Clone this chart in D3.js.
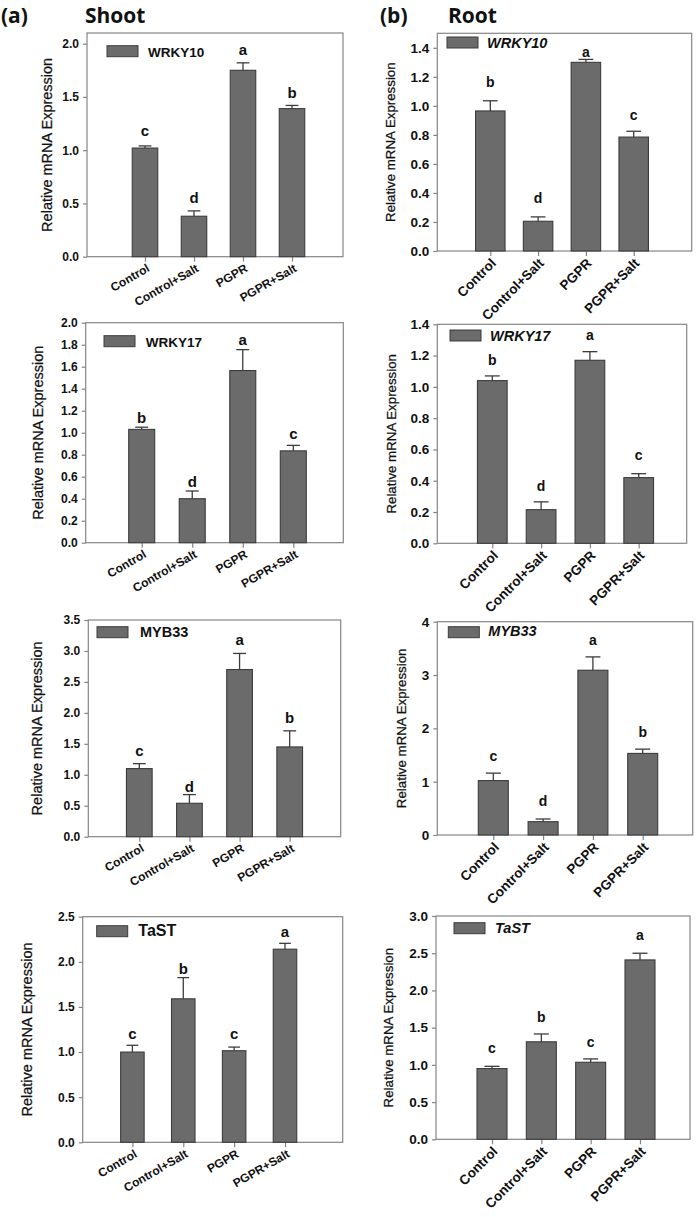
<!DOCTYPE html>
<html>
<head>
<meta charset="utf-8">
<script src="https://cdn.jsdelivr.net/npm/d3@7"></script>
<style>
  html, body { margin: 0; padding: 0; background: #fff; }
  svg { display: block; }
</style>
</head>
<body>
<svg id="chart" width="697" height="1217"></svg>
<script>
// ---------------- DATA ----------------
const categories = ["Control", "Control+Salt", "PGPR", "PGPR+Salt"];
const genes = ["WRKY10", "WRKY17", "MYB33", "TaST"];

// Shoot
const shootWRKY10 = [1.02, 0.38, 1.75, 1.39];
const shootWRKY10Err = [0.02, 0.05, 0.07, 0.03];
const shootWRKY10Letters = ["c", "d", "a", "b"];
const shootWRKY10LetterY = [1.13, 0.50, 1.89, 1.49];

const shootWRKY17 = [1.03, 0.40, 1.565, 0.835];
const shootWRKY17Err = [0.02, 0.07, 0.19, 0.05];
const shootWRKY17Letters = ["b", "d", "a", "c"];
const shootWRKY17LetterY = [1.09, 0.51, 1.80, 0.94];

const shootMYB33 = [1.10, 0.54, 2.70, 1.45];
const shootMYB33Err = [0.08, 0.14, 0.26, 0.26];
const shootMYB33Letters = ["c", "d", "a", "b"];
const shootMYB33LetterY = [1.31, 0.73, 3.10, 1.83];

const shootTaST = [1.00, 1.59, 1.015, 2.14];
const shootTaSTErr = [0.075, 0.235, 0.04, 0.065];
const shootTaSTLetters = ["c", "b", "c", "a"];
const shootTaSTLetterY = [1.145, 1.87, 1.145, 2.28];

// Root
const rootWRKY10 = [0.965, 0.205, 1.30, 0.785];
const rootWRKY10Err = [0.07, 0.03, 0.02, 0.04];
const rootWRKY10Letters = ["b", "d", "a", "c"];
const rootWRKY10LetterY = [1.13, 0.33, 1.34, 0.90];

const rootWRKY17 = [1.04, 0.215, 1.17, 0.42];
const rootWRKY17Err = [0.03, 0.05, 0.055, 0.025];
const rootWRKY17Letters = ["b", "d", "a", "c"];
const rootWRKY17LetterY = [1.14, 0.335, 1.30, 0.53];

const rootMYB33 = [1.02, 0.25, 3.09, 1.53];
const rootMYB33Err = [0.14, 0.05, 0.25, 0.08];
const rootMYB33Letters = ["c", "d", "a", "b"];
const rootMYB33LetterY = [1.39, 0.54, 3.56, 1.84];

const rootTaST = [0.95, 1.31, 1.035, 2.41];
const rootTaSTErr = [0.03, 0.105, 0.045, 0.09];
const rootTaSTLetters = ["c", "b", "c", "a"];
const rootTaSTLetterY = [1.156, 1.58, 1.245, 2.68];

// Axis ranges / ticks
const shootYMax = [2.1, 2.0, 3.5, 2.5];
const shootYTickMax = [2.0, 2.0, 3.5, 2.5];
const shootYStep = [0.5, 0.2, 0.5, 0.5];
const rootYMax = [1.5, 1.4, 4, 3.0];
const rootYTickMax = [1.4, 1.4, 4, 3.0];
const rootYStep = [0.2, 0.2, 1, 0.5];

const yTitle = "Relative mRNA Expression";

// ---------------- LAYOUT ----------------
const shootLayout = [
  {L: 87,   R: 343,   T: 33,    B: 256.7,  gapL: 58,   gapR: 51,   barW: 25.5, ytx: -40,  leg: {rx: 20,  ry: 12.7, tx: 61,   ty: 24,   fs: 13.5}},
  {L: 85.7, R: 343.3, T: 322.7, B: 542.7,  gapL: 56,   gapR: 50,   barW: 26,   ytx: -48,  leg: {rx: 18.3,ry: 13,   tx: 60,   ty: 24,   fs: 13.5}},
  {L: 88.3, R: 340.7, T: 620,   B: 836.7,  gapL: 51,   gapR: 51,   barW: 25.7, ytx: -51.6,leg: {rx: 8.7, ry: 6.7,  tx: 51.7, ty: 16.7, fs: 14.5}},
  {L: 82.7, R: 342.7, T: 916.7, B: 1142.3, gapL: 49.7, gapR: 57.7, barW: 23.5, ytx: -55.4,leg: {rx: 14,  ry: 9,    tx: 55.6, ty: 19,   fs: 16}}
];
const rootLayout = [
  {L: 437.3, R: 691.7, T: 33.3,  B: 251,    gapL: 53, gapR: 58, barW: 29.5, ytx: -47,   leg: {rx: 9.7,  ry: 3.7, tx: 49.7, ty: 14.7, fs: 14.5}},
  {L: 437.3, R: 686.7, T: 324.3, B: 543.3,  gapL: 55, gapR: 48, barW: 29.7, ytx: -45.6, leg: {rx: 12.7, ry: 5.7, tx: 52.7, ty: 16.7, fs: 14.5}},
  {L: 437.3, R: 692.7, T: 621.7, B: 835,    gapL: 56, gapR: 50, barW: 30,   ytx: -35.6, leg: {rx: 11,   ry: 5,   tx: 51,   ty: 14,   fs: 14.5}},
  {L: 436,   R: 690,   T: 916,   B: 1139.3, gapL: 56, gapR: 50, barW: 30,   ytx: -47.7, leg: {rx: 18,   ry: 6.7, tx: 59,   ty: 16.7, fs: 14.5}}
];

const shootSeries = [
  [shootWRKY10, shootWRKY10Err, shootWRKY10Letters, shootWRKY10LetterY],
  [shootWRKY17, shootWRKY17Err, shootWRKY17Letters, shootWRKY17LetterY],
  [shootMYB33, shootMYB33Err, shootMYB33Letters, shootMYB33LetterY],
  [shootTaST, shootTaSTErr, shootTaSTLetters, shootTaSTLetterY]
];
const rootSeries = [
  [rootWRKY10, rootWRKY10Err, rootWRKY10Letters, rootWRKY10LetterY],
  [rootWRKY17, rootWRKY17Err, rootWRKY17Letters, rootWRKY17LetterY],
  [rootMYB33, rootMYB33Err, rootMYB33Letters, rootMYB33LetterY],
  [rootTaST, rootTaSTErr, rootTaSTLetters, rootTaSTLetterY]
];

const svg = d3.select("#chart");
const FONT = '"Liberation Sans", Arial, sans-serif';
const AXIS_COLOR = "#858585";
const BAR_FILL = "#6b6b6b";
const BAR_STROKE = "#3c3c3c";

// Panel titles
const titleFont = '"Open Sans", "Noto Sans", sans-serif';
[["(a)", 1, 23], ["Shoot", 85, 23], ["(b)", 380, 23], ["Root", 448, 23]].forEach(([t, x, y]) => {
  svg.append("text").attr("x", x).attr("y", y)
    .attr("font-family", titleFont).attr("font-weight", 700).attr("font-size", 21)
    .attr("fill", "#111").text(t);
});

function drawPanel(lay, series, gene, opts) {
  const [vals, errs, letters, letterY] = series;
  const g = svg.append("g");
  const x = d3.scalePoint().domain(categories).range([lay.L + lay.gapL, lay.R - lay.gapR]);
  const y = d3.scaleLinear().domain([0, opts.yMax]).range([lay.B, lay.T]);
  const ticks = d3.range(0, opts.tickMax + opts.step / 2, opts.step);
  const fmt = opts.step >= 1 ? d3.format("d") : d3.format(".1f");

  // frame
  g.append("rect").attr("x", lay.L).attr("y", lay.T)
    .attr("width", lay.R - lay.L).attr("height", lay.B - lay.T)
    .attr("fill", "none").attr("stroke", AXIS_COLOR).attr("stroke-width", 1.2);

  // y axis
  const ya = g.append("g").attr("transform", `translate(${lay.L},0)`)
    .call(d3.axisLeft(y).tickValues(ticks).tickFormat(fmt).tickSize(4).tickPadding(4));
  ya.select(".domain").remove();
  ya.selectAll(".tick line").attr("stroke", AXIS_COLOR).attr("stroke-width", 1.2);
  ya.selectAll(".tick text").attr("font-family", FONT).attr("font-weight", 700)
    .attr("font-size", opts.tickFs).attr("fill", "#111");

  // x axis
  const xa = g.append("g").attr("transform", `translate(0,${lay.B})`)
    .call(d3.axisBottom(x).tickSize(5).tickPadding(4));
  xa.select(".domain").remove();
  xa.selectAll(".tick line").attr("stroke", AXIS_COLOR).attr("stroke-width", 1.2);
  xa.selectAll(".tick text")
    .attr("font-family", FONT).attr("font-weight", 700).attr("font-size", opts.xFs)
    .attr("fill", "#111").attr("text-anchor", "end")
    .attr("y", 0).attr("dy", 0)
    .attr("transform", `translate(${opts.xdx},${opts.xdy}) rotate(${opts.angle})`);

  // bars
  g.selectAll("rect.bar").data(categories).enter().append("rect")
    .attr("class", "bar")
    .attr("x", d => x(d) - lay.barW / 2)
    .attr("y", (d, i) => y(vals[i]))
    .attr("width", lay.barW)
    .attr("height", (d, i) => y(0) - y(vals[i]))
    .attr("fill", BAR_FILL).attr("stroke", BAR_STROKE).attr("stroke-width", 1.1);

  // error bars (upper only)
  const capW = lay.barW * 0.5;
  categories.forEach((c, i) => {
    const cx = x(c);
    g.append("line").attr("x1", cx).attr("x2", cx)
      .attr("y1", y(vals[i])).attr("y2", y(vals[i] + errs[i]))
      .attr("stroke", "#3c3c3c").attr("stroke-width", 1.3);
    g.append("line").attr("x1", cx - capW / 2).attr("x2", cx + capW / 2)
      .attr("y1", y(vals[i] + errs[i])).attr("y2", y(vals[i] + errs[i]))
      .attr("stroke", "#3c3c3c").attr("stroke-width", 1.3);
  });

  // significance letters
  g.selectAll("text.sig").data(categories).enter().append("text")
    .attr("class", "sig")
    .attr("x", d => x(d))
    .attr("y", (d, i) => y(letterY[i]))
    .attr("text-anchor", "middle")
    .attr("font-family", FONT).attr("font-weight", 700).attr("font-size", opts.letterFs)
    .attr("fill", "#111")
    .text((d, i) => letters[i]);

  // legend
  g.append("rect").attr("x", lay.L + lay.leg.rx).attr("y", lay.T + lay.leg.ry)
    .attr("width", 31).attr("height", 11)
    .attr("fill", BAR_FILL).attr("stroke", BAR_STROKE).attr("stroke-width", 1);
  g.append("text").attr("x", lay.L + lay.leg.tx).attr("y", lay.T + lay.leg.ty)
    .attr("font-family", FONT).attr("font-weight", 700)
    .attr("font-style", opts.italic ? "italic" : "normal")
    .attr("font-size", lay.leg.fs).attr("fill", "#111").text(gene);

  // y title
  const cy = (lay.T + lay.B) / 2;
  g.append("text")
    .attr("transform", `translate(${lay.L + lay.ytx},${cy}) rotate(-90)`)
    .attr("text-anchor", "middle").attr("dy", "0.35em")
    .attr("font-family", FONT).attr("font-size", opts.yTitleFs)
    .attr("fill", "#111").attr("stroke", "#111").attr("stroke-width", 0.25)
    .text(yTitle);
}

genes.forEach((gene, k) => {
  drawPanel(shootLayout[k], shootSeries[k], gene, {
    yMax: shootYMax[k], tickMax: shootYTickMax[k], step: shootYStep[k],
    tickFs: 12, xFs: 12, letterFs: 15, yTitleFs: 14.5,
    angle: -30, xdx: 5, xdy: 14, italic: false
  });
  drawPanel(rootLayout[k], rootSeries[k], gene, {
    yMax: rootYMax[k], tickMax: rootYTickMax[k], step: rootYStep[k],
    tickFs: 13.5, xFs: 13.5, letterFs: 14, yTitleFs: 13.3,
    angle: -45, xdx: 6, xdy: 13, italic: true
  });
});
</script>
</body>
</html>
